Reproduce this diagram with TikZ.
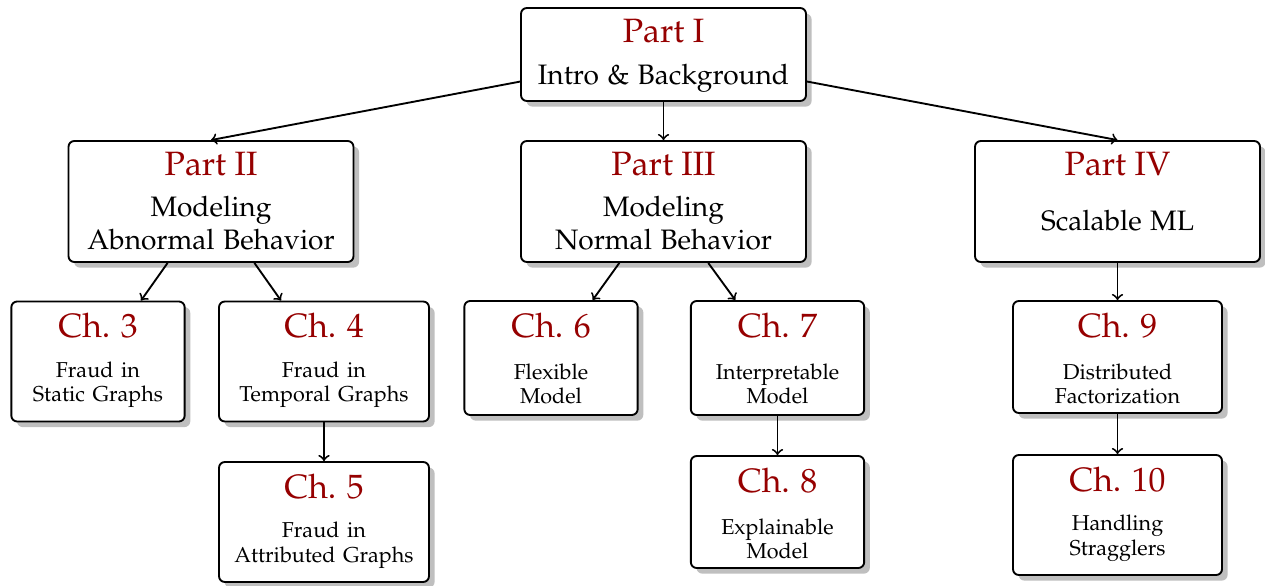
\documentclass[tikz,border=0pt]{standalone}
\usepackage[T1]{fontenc}
\usepackage{mathpazo}
\usetikzlibrary{shadows,calc}
\definecolor{partred}{RGB}{150,0,0}
\newcommand\partfont{\fontsize{12}{14}\selectfont\spaceskip=0.3em\relax}
\newcommand\chapfont{\fontsize{9.2}{10.4}\selectfont\spaceskip=0.36em\relax}
\tikzset{
	card/.style={draw,thick,rounded corners=2.5pt,fill=white,
		drop shadow={shadow xshift=2.4pt,shadow yshift=-2.4pt,fill=black!25,opacity=1}},
	ptbox/.style={card,minimum width=4.275cm,minimum height=1.815cm},
	chbox/.style={card,minimum width=2.6cm,minimum height=1.8cm},
	ttl/.style={anchor=base,text=partred,font=\fontsize{14.4}{17}\selectfont},
	ptxt/.style={align=center,font=\partfont},
	chtxt/.style={align=center,font=\chapfont},
}
\begin{document}
\begin{tikzpicture}[x=0.015cm,y=-0.015cm]
		\useasboundingbox (0,0) rectangle (1265,585);
		% parts
		\node[ptbox,minimum height=1.395cm] (p1) at (663.5,54.5) {};
		\node[ptbox] (p2) at (211,201.5) {};
		\node[ptbox] (p3) at (663.5,201.5) {};
		\node[ptbox] (p4) at (1117.5,201.5) {};
		% chapters
		\node[chbox] (c3) at (98,361.5) {};
		\node[chbox,minimum width=3.15cm] (c4) at (324,361.5) {};
		\node[chbox,minimum width=3.15cm] (c5) at (324,522) {};
		\node[chbox,minimum height=1.71cm] (c6) at (551,358) {};
		\node[chbox,minimum height=1.71cm] (c7) at (777.5,358) {};
		\node[chbox,minimum height=1.68cm] (c8) at (777.5,512) {};
		\node[chbox,minimum width=3.135cm,minimum height=1.68cm] (c9) at (1117.5,357) {};
		\node[chbox,minimum width=3.135cm] (c10) at (1117.5,515) {};
		% titles
		\node[ttl] (p1t) at ($(p1.north)+(0,35)$) {Part I};
		\node[ttl] (p2t) at ($(p2.north)+(0,35)$) {Part II};
		\node[ttl] (p3t) at ($(p3.north)+(0,35)$) {Part III};
		\node[ttl] (p4t) at ($(p4.north)+(0,35)$) {Part IV};
		\node[ttl] (c3t) at ($(c3.north)+(0,37)$) {Ch. 3};
		\node[ttl] (c4t) at ($(c4.north)+(0,37)$) {Ch. 4};
		\node[ttl] (c5t) at ($(c5.north)+(0,37)$) {Ch. 5};
		\node[ttl] (c6t) at ($(c6.north)+(0,37)$) {Ch. 6};
		\node[ttl] (c7t) at ($(c7.north)+(0,37)$) {Ch. 7};
		\node[ttl] (c8t) at ($(c8.north)+(0,37)$) {Ch. 8};
		\node[ttl] (c9t) at ($(c9.north)+(0,37)$) {Ch. 9};
		\node[ttl] (c10t) at ($(c10.north)+(0,37)$) {Ch. 10};
		% texts
		\node[ptxt] (p1b) at ($(p1.north)+(0,71)$) {Intro \& Background};
		\node[ptxt] (p2b) at ($(p2.north)+(0,83)$) {Modeling\\Abnormal Behavior};
		\node[ptxt] (p3b) at ($(p3.north)+(0,83)$) {Modeling\\Normal Behavior};
		\node[ptxt] (p4b) at ($(p4.north)+(0,81)$) {Scalable ML};
		\node[chtxt] (c3b) at ($(c3.north)+(0,84)$) {Fraud in\\Static Graphs};
		\node[chtxt] (c4b) at ($(c4.north)+(0,84)$) {Fraud in\\Temporal Graphs};
		\node[chtxt] (c5b) at ($(c5.north)+(0,84)$) {Fraud in\\Attributed Graphs};
		\node[chtxt] (c6b) at ($(c6.north)+(0,84)$) {Flexible\\Model};
		\node[chtxt] (c7b) at ($(c7.north)+(0,84)$) {Interpretable\\Model};
		\node[chtxt] (c8b) at ($(c8.north)+(0,84)$) {Explainable\\Model};
		\node[chtxt] (c9b) at ($(c9.north)+(0,84)$) {Distributed\\Factorization};
		\node[chtxt] (c10b) at ($(c10.north)+(0,84)$) {Handling\\Stragglers};
		% arrows
		\draw[thick,->](p1)--(p2.north);
		\draw[thick,->](p1)--(p3);
		\draw[thick,->](p1)--(p4.north);
		\draw[thick,->](p2)--(c3);
		\draw[thick,->](p2)--(c4);
		\draw[thick,->](p3)--(c6);
		\draw[thick,->](p3)--(c7);
		\draw[thick,->](p4)--(c9);
		\draw[thick,->](c4)--(c5);
		\draw[thick,->](c7)--(c8);
		\draw[thick,->](c9)--(c10);
	\end{tikzpicture}
\end{document}
